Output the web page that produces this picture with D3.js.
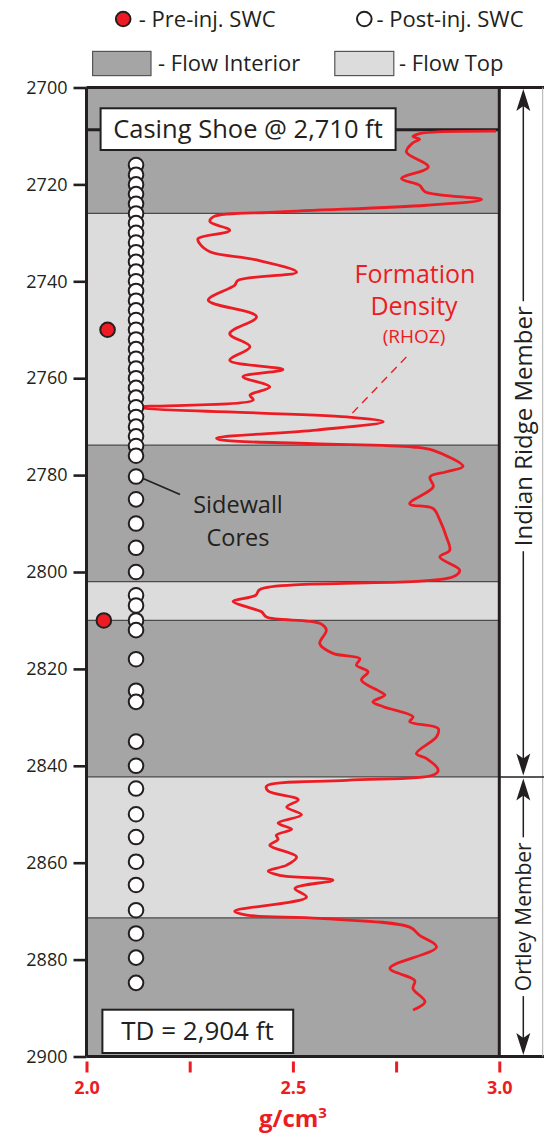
<!DOCTYPE html>
<html>
<head>
<meta charset="utf-8">
<script src="https://cdn.jsdelivr.net/npm/d3@7"></script>
<style>
  body { margin: 0; background: #fff; }
  svg { display: block; font-family: 'Open Sans', sans-serif; }
</style>
</head>
<body>
<div id="chart"></div>
<script>
// depth axis (ft) and density axis (g/cm3)
const depthTicks = [2700, 2720, 2740, 2760, 2780, 2800, 2820, 2840, 2860, 2880, 2900]
const densityTicks = [2.0, 2.25, 2.5, 2.75, 3.0]
const densityLabels = ['2.0', '', '2.5', '', '3.0']

// flow units
const layerTop = [2700, 2726, 2773.8, 2802, 2810, 2842.3, 2871.4]
const layerBase = [2726, 2773.8, 2802, 2810, 2842.3, 2871.4, 2900]
const layerKind = ['interior', 'top', 'interior', 'top', 'interior', 'top', 'interior']

// members
const memberNames = ['Indian Ridge Member', 'Ortley Member']
const memberTop = [2700, 2842.3]
const memberBase = [2842.3, 2900]

// sidewall cores
const coreColumn = 2.12
const postInjDepth = [2716, 2718, 2720, 2722, 2724, 2726, 2728, 2730, 2732, 2734, 2736, 2738, 2740,
  2742, 2744, 2746, 2748, 2750, 2752, 2754, 2756, 2758, 2760, 2762, 2764, 2766, 2768, 2770, 2772,
  2774, 2776, 2780.3, 2785, 2790, 2795, 2800, 2804.8, 2806.9, 2810, 2812, 2818, 2824.5, 2826.8,
  2835, 2840, 2844.7, 2850, 2854.7, 2859.8, 2864.6, 2869.8, 2874.6, 2879.6, 2884.8]
const preInjDepth = [2750, 2810]
const preInjDensity = [2.051, 2.042]

// RHOZ log
const rhozDepth = [2709.0, 2709.5, 2710.1, 2710.7, 2711.4, 2713.3, 2716.4, 2718.8, 2720.2, 2721.5,
  2723.1, 2724.3, 2725.7, 2726.7, 2727.7, 2729.5, 2731.2, 2732.2, 2733.9, 2735.6, 2738.1, 2739.8,
  2740.8, 2743.9, 2747.3, 2750.8, 2753.5, 2756.3, 2758.2, 2759.7, 2761.8, 2763.5, 2764.5, 2766.0,
  2768.0, 2769.0, 2770.7, 2772.4, 2772.8, 2773.5, 2774.2, 2774.9, 2778.2, 2779.3, 2780.4, 2782.4,
  2785.9, 2786.9, 2789.3, 2792.8, 2795.5, 2796.9, 2799.6, 2801.0, 2803.6, 2804.8, 2806.1, 2807.5,
  2808.2, 2809.3, 2810.6, 2812.0, 2814.8, 2816.8, 2817.9, 2819.2, 2820.6, 2822.3, 2824.7, 2825.4,
  2826.8, 2827.8, 2829.9, 2830.9, 2832.3, 2834.0, 2837.5, 2838.5, 2840.9, 2841.9, 2843.0, 2844.2,
  2845.2, 2847.0, 2848.5, 2850.1, 2851.8, 2853.1, 2854.3, 2855.2, 2856.4, 2858.8, 2860.5, 2861.7,
  2862.6, 2863.6, 2865.3, 2867.1, 2870.0, 2870.8, 2871.5, 2873.3, 2875.0, 2877.4, 2881.8, 2884.3,
  2886.0, 2888.7, 2890.4]
const rhozDensity = [2.992, 2.807, 2.791, 2.807, 2.791, 2.775, 2.828, 2.763, 2.807, 2.820,
  2.957, 2.824, 2.468, 2.307, 2.299, 2.347, 2.270, 2.274, 2.299, 2.412, 2.509, 2.367,
  2.359, 2.295, 2.412, 2.347, 2.396, 2.347, 2.476, 2.379, 2.444, 2.396, 2.404, 2.129,
  2.630, 2.719, 2.557, 2.315, 2.331, 2.549, 2.791, 2.840, 2.912, 2.872, 2.832, 2.840,
  2.783, 2.840, 2.856, 2.872, 2.880, 2.856, 2.904, 2.888, 2.420, 2.410, 2.355, 2.400,
  2.424, 2.436, 2.565, 2.581, 2.565, 2.597, 2.662, 2.654, 2.682, 2.666, 2.711, 2.723,
  2.694, 2.719, 2.791, 2.783, 2.852, 2.848, 2.799, 2.824, 2.852, 2.840, 2.630, 2.436,
  2.440, 2.513, 2.485, 2.521, 2.464, 2.497, 2.460, 2.464, 2.444, 2.509, 2.485, 2.440,
  2.468, 2.597, 2.505, 2.533, 2.359, 2.388, 2.565, 2.783, 2.807, 2.848, 2.735, 2.795,
  2.791, 2.820, 2.791]

const casingShoeDepth = 2708.7
const casingShoeText = 'Casing Shoe @ 2,710 ft'
const tdText = 'TD = 2,904 ft'

const RED = '#ed1c24'
const INK = '#231f20'
const fills = { interior: '#a4a5a4', top: '#dcdcdc' }

const svg = d3.select('#chart').append('svg')
  .attr('width', 544)
  .attr('height', 1135)

const x = d3.scaleLinear().domain([2, 3]).range([86.5, 499.3])
const y = d3.scaleLinear().domain([2700, 2900]).range([87.5, 1056.5])

// flow units
svg.append('g').selectAll('rect')
  .data(layerTop)
  .join('rect')
  .attr('x', x(2))
  .attr('width', x(3) - x(2))
  .attr('y', d => y(d))
  .attr('height', (d, i) => y(layerBase[i]) - y(d))
  .attr('fill', (d, i) => fills[layerKind[i]])

svg.append('g').selectAll('line')
  .data(layerTop.slice(1))
  .join('line')
  .attr('x1', x(2)).attr('x2', x(3))
  .attr('y1', d => y(d)).attr('y2', d => y(d))
  .attr('stroke', '#4a4a4a')
  .attr('stroke-width', 1.2)

// casing shoe
svg.append('line')
  .attr('x1', x(2)).attr('x2', x(3))
  .attr('y1', y(casingShoeDepth)).attr('y2', y(casingShoeDepth))
  .attr('stroke', INK)
  .attr('stroke-width', 3)

// density log
const rhoz = rhozDepth.map((d, i) => ({ depth: d, density: rhozDensity[i] }))
const line = d3.line()
  .x(d => x(d.density))
  .y(d => y(d.depth))
  .curve(d3.curveCatmullRom.alpha(0.5))

svg.append('path')
  .datum(rhoz)
  .attr('d', line)
  .attr('fill', 'none')
  .attr('stroke', RED)
  .attr('stroke-width', 2.8)
  .attr('stroke-linejoin', 'round')

// cores
svg.append('g').selectAll('circle')
  .data(postInjDepth)
  .join('circle')
  .attr('cx', x(coreColumn))
  .attr('cy', d => y(d))
  .attr('r', 7.3)
  .attr('fill', '#fff')
  .attr('stroke', INK)
  .attr('stroke-width', 2)

svg.append('g').selectAll('circle')
  .data(preInjDepth)
  .join('circle')
  .attr('cx', (d, i) => x(preInjDensity[i]))
  .attr('cy', d => y(d))
  .attr('r', 7.3)
  .attr('fill', RED)
  .attr('stroke', INK)
  .attr('stroke-width', 2)

// annotations
const leaderDepth = postInjDepth[31]
svg.append('line')
  .attr('x1', x(coreColumn) + 7).attr('y1', y(leaderDepth) + 2)
  .attr('x2', x(coreColumn) + 44).attr('y2', y(leaderDepth) + 18)
  .attr('stroke', INK)
  .attr('stroke-width', 1.6)

const coreLabel = svg.append('g')
  .attr('text-anchor', 'middle')
  .attr('font-size', 23.5)
  .attr('fill', INK)
coreLabel.append('text').attr('x', 238).attr('y', 513).text('Sidewall')
coreLabel.append('text').attr('x', 238).attr('y', 546).text('Cores')

svg.append('line')
  .attr('x1', x(2.775)).attr('y1', y(2755.6))
  .attr('x2', x(2.634)).attr('y2', y(2768.1))
  .attr('stroke', RED)
  .attr('stroke-width', 1.4)
  .attr('stroke-dasharray', '8,6')

const rhozLabel = svg.append('g')
  .attr('fill', RED)
  .attr('text-anchor', 'middle')
rhozLabel.append('text').attr('x', 415).attr('y', 283).attr('font-size', 25).text('Formation')
rhozLabel.append('text').attr('x', 414).attr('y', 315).attr('font-size', 25).text('Density')
rhozLabel.append('text').attr('x', 414).attr('y', 343).attr('font-size', 19).text('(RHOZ)')

const labelBox = function (x0, y0, w, h, cx, by, size, txt) {
  svg.append('rect')
    .attr('x', x0).attr('y', y0)
    .attr('width', w).attr('height', h)
    .attr('fill', '#fff')
    .attr('stroke', INK)
    .attr('stroke-width', 2)
  svg.append('text')
    .attr('x', cx).attr('y', by)
    .attr('text-anchor', 'middle')
    .attr('font-size', size)
    .attr('fill', INK)
    .text(txt)
}
labelBox(100.6, 108.3, 295, 41.7, 248, 138, 25.5, casingShoeText)
labelBox(102.4, 1009.7, 190.8, 43.3, 197.5, 1040, 26, tdText)

// frame
const frame = svg.append('g').attr('stroke', INK).attr('stroke-width', 3)
frame.append('line').attr('x1', x(2)).attr('x2', 544).attr('y1', y(2700)).attr('y2', y(2700))
frame.append('line').attr('x1', x(2)).attr('x2', 544).attr('y1', y(2900)).attr('y2', y(2900))
frame.append('line').attr('x1', x(2)).attr('x2', x(2)).attr('y1', y(2700)).attr('y2', y(2900))
frame.append('line').attr('x1', x(3)).attr('x2', x(3)).attr('y1', y(2700)).attr('y2', y(2900))
svg.append('line')
  .attr('x1', 542.7).attr('x2', 542.7)
  .attr('y1', y(2700)).attr('y2', y(2900))
  .attr('stroke', '#b0b0b0')
  .attr('stroke-width', 1)

// axes
const yAxis = svg.append('g')
  .attr('transform', `translate(${x(2)},0)`)
  .call(d3.axisLeft(y).tickValues(depthTicks).tickSize(13).tickPadding(6).tickFormat(d3.format('d')))
yAxis.select('.domain').remove()
yAxis.selectAll('line').attr('stroke', INK).attr('stroke-width', 2.6)
yAxis.selectAll('text')
  .attr('font-size', 18)
  .attr('font-family', "'Open Sans', sans-serif")
  .attr('fill', INK)

const xAxis = svg.append('g')
  .attr('transform', `translate(0,${y(2900) + 5})`)
  .call(d3.axisBottom(x).tickValues(densityTicks).tickSize(11).tickPadding(9)
    .tickFormat((d, i) => densityLabels[i]))
xAxis.select('.domain').remove()
xAxis.selectAll('line').attr('stroke', RED).attr('stroke-width', 3)
xAxis.selectAll('text')
  .attr('font-size', 18)
  .attr('font-weight', 700)
  .attr('font-family', "'Open Sans', sans-serif")
  .attr('fill', RED)

const unit = svg.append('text')
  .attr('x', x(2.5)).attr('y', 1127)
  .attr('text-anchor', 'middle')
  .attr('font-size', 24)
  .attr('font-weight', 700)
  .attr('fill', RED)
unit.append('tspan').text('g/cm')
unit.append('tspan').attr('font-size', 15).attr('dy', -9).text('3')

// members
const arrowX = 523.3
const memberSize = [24, 21]
const arrowHead = function (tipY, dir) {
  return `M${arrowX},${tipY} L${arrowX + 7},${tipY + 22 * dir} L${arrowX},${tipY + 17 * dir} L${arrowX - 7},${tipY + 22 * dir} Z`
}
svg.append('line')
  .attr('x1', x(3)).attr('x2', 544)
  .attr('y1', y(memberBase[0])).attr('y2', y(memberBase[0]))
  .attr('stroke', INK)
  .attr('stroke-width', 1.6)

memberNames.forEach(function (name, i) {
  const top = y(memberTop[i])
  const base = y(memberBase[i])
  const mid = (top + base) / 2 - (i ? 0 : 6)
  const label = svg.append('text')
    .attr('transform', `translate(${arrowX},${mid}) rotate(-90)`)
    .attr('text-anchor', 'middle')
    .attr('dy', '0.36em')
    .attr('font-size', memberSize[i])
    .attr('fill', INK)
    .text(name)
  const half = label.node().getComputedTextLength() / 2 + 5
  const g = svg.append('g')
  g.append('line')
    .attr('x1', arrowX).attr('x2', arrowX)
    .attr('y1', top + 10).attr('y2', mid - half)
    .attr('stroke', INK).attr('stroke-width', 1.5)
  g.append('line')
    .attr('x1', arrowX).attr('x2', arrowX)
    .attr('y1', mid + half).attr('y2', base - 10)
    .attr('stroke', INK).attr('stroke-width', 1.5)
  g.append('path').attr('d', arrowHead(top + 1.5, 1)).attr('fill', INK)
  g.append('path').attr('d', arrowHead(base - 1.5, -1)).attr('fill', INK)
})

// legend
const legend = svg.append('g').attr('font-size', 22).attr('fill', INK)
legend.append('circle').attr('cx', 123.2).attr('cy', 19).attr('r', 7.3)
  .attr('fill', RED).attr('stroke', INK).attr('stroke-width', 2)
legend.append('text').attr('x', 138.8).attr('y', 26.5).text('- Pre-inj. SWC')
legend.append('circle').attr('cx', 364.3).attr('cy', 19).attr('r', 7.3)
  .attr('fill', '#fff').attr('stroke', INK).attr('stroke-width', 2)
legend.append('text').attr('x', 376.5).attr('y', 26.5).text('- Post-inj. SWC')
legend.append('rect').attr('x', 92.6).attr('y', 51.4).attr('width', 58.4).attr('height', 24.2)
  .attr('fill', fills.interior).attr('stroke', '#555').attr('stroke-width', 1.2)
legend.append('text').attr('x', 158).attr('y', 71).text('- Flow Interior')
legend.append('rect').attr('x', 334.8).attr('y', 51.4).attr('width', 59).attr('height', 24.2)
  .attr('fill', fills.top).attr('stroke', '#555').attr('stroke-width', 1.2)
legend.append('text').attr('x', 399).attr('y', 71).text('- Flow Top')
</script>
</body>
</html>
